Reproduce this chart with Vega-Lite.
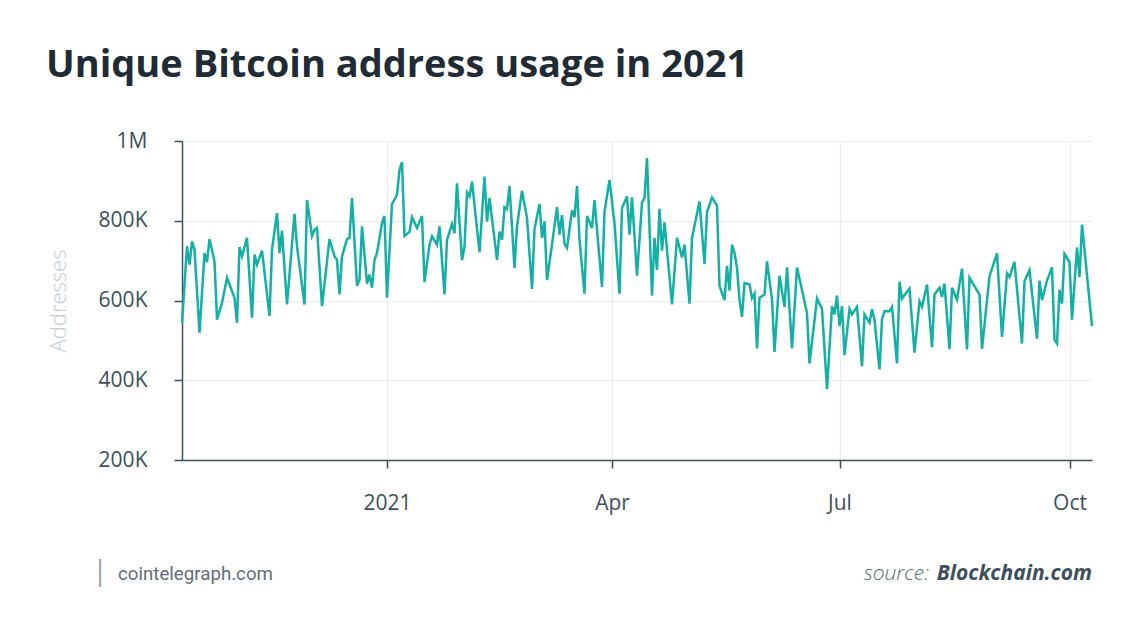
{
  "$schema": "https://vega.github.io/schema/vega-lite/v6.json",
  "width": 910,
  "height": 319,
  "autosize": {"type": "none"},
  "padding": {"left": 182, "top": 141, "right": 48, "bottom": 177},
  "background": "white",
  "title": {
    "text": "Unique Bitcoin address usage in 2021",
    "anchor": "start",
    "frame": "group",
    "dx": -136,
    "offset": 45,
    "font": "Open Sans",
    "fontSize": 38,
    "fontWeight": 700,
    "color": "#1f2b35"
  },
  "config": {
    "view": {"stroke": null},
    "axis": {
      "domainColor": "#3d4f5c",
      "domainWidth": 1.5,
      "tickColor": "#3d4f5c",
      "tickWidth": 1.5,
      "tickSize": 8,
      "gridColor": "#ececec",
      "gridWidth": 1.2,
      "labelFont": "Open Sans",
      "labelFontSize": 21,
      "labelColor": "#3d4f5c",
      "titleFont": "Open Sans",
      "titleFontSize": 22,
      "titleFontWeight": 300,
      "titleColor": "#c3ccd1"
    }
  },
  "data": {
    "values": [
      {"date": "2020-10-11", "addresses": 544000},
      {"date": "2020-10-13", "addresses": 736000},
      {"date": "2020-10-14", "addresses": 690000},
      {"date": "2020-10-15", "addresses": 748000},
      {"date": "2020-10-16", "addresses": 727000},
      {"date": "2020-10-18", "addresses": 519000},
      {"date": "2020-10-20", "addresses": 719000},
      {"date": "2020-10-21", "addresses": 696000},
      {"date": "2020-10-22", "addresses": 754000},
      {"date": "2020-10-24", "addresses": 698000},
      {"date": "2020-10-25", "addresses": 552000},
      {"date": "2020-10-27", "addresses": 594000},
      {"date": "2020-10-29", "addresses": 657000},
      {"date": "2020-11-01", "addresses": 607000},
      {"date": "2020-11-02", "addresses": 544000},
      {"date": "2020-11-03", "addresses": 734000},
      {"date": "2020-11-04", "addresses": 711000},
      {"date": "2020-11-06", "addresses": 757000},
      {"date": "2020-11-08", "addresses": 557000},
      {"date": "2020-11-09", "addresses": 715000},
      {"date": "2020-11-10", "addresses": 690000},
      {"date": "2020-11-12", "addresses": 725000},
      {"date": "2020-11-15", "addresses": 561000},
      {"date": "2020-11-16", "addresses": 727000},
      {"date": "2020-11-18", "addresses": 819000},
      {"date": "2020-11-19", "addresses": 719000},
      {"date": "2020-11-20", "addresses": 775000},
      {"date": "2020-11-22", "addresses": 590000},
      {"date": "2020-11-25", "addresses": 817000},
      {"date": "2020-11-26", "addresses": 736000},
      {"date": "2020-11-29", "addresses": 590000},
      {"date": "2020-11-30", "addresses": 852000},
      {"date": "2020-12-02", "addresses": 762000},
      {"date": "2020-12-03", "addresses": 777000},
      {"date": "2020-12-04", "addresses": 782000},
      {"date": "2020-12-06", "addresses": 586000},
      {"date": "2020-12-09", "addresses": 754000},
      {"date": "2020-12-11", "addresses": 711000},
      {"date": "2020-12-12", "addresses": 702000},
      {"date": "2020-12-13", "addresses": 615000},
      {"date": "2020-12-14", "addresses": 711000},
      {"date": "2020-12-16", "addresses": 754000},
      {"date": "2020-12-17", "addresses": 757000},
      {"date": "2020-12-18", "addresses": 857000},
      {"date": "2020-12-20", "addresses": 637000},
      {"date": "2020-12-21", "addresses": 652000},
      {"date": "2020-12-22", "addresses": 786000},
      {"date": "2020-12-24", "addresses": 642000},
      {"date": "2020-12-25", "addresses": 665000},
      {"date": "2020-12-26", "addresses": 632000},
      {"date": "2020-12-27", "addresses": 702000},
      {"date": "2020-12-28", "addresses": 719000},
      {"date": "2020-12-30", "addresses": 794000},
      {"date": "2020-12-31", "addresses": 812000},
      {"date": "2021-01-01", "addresses": 607000},
      {"date": "2021-01-03", "addresses": 842000},
      {"date": "2021-01-05", "addresses": 865000},
      {"date": "2021-01-06", "addresses": 927000},
      {"date": "2021-01-07", "addresses": 947000},
      {"date": "2021-01-08", "addresses": 762000},
      {"date": "2021-01-10", "addresses": 772000},
      {"date": "2021-01-11", "addresses": 809000},
      {"date": "2021-01-13", "addresses": 782000},
      {"date": "2021-01-15", "addresses": 812000},
      {"date": "2021-01-16", "addresses": 646000},
      {"date": "2021-01-18", "addresses": 740000},
      {"date": "2021-01-19", "addresses": 761000},
      {"date": "2021-01-21", "addresses": 740000},
      {"date": "2021-01-22", "addresses": 786000},
      {"date": "2021-01-24", "addresses": 615000},
      {"date": "2021-01-25", "addresses": 752000},
      {"date": "2021-01-27", "addresses": 792000},
      {"date": "2021-01-28", "addresses": 769000},
      {"date": "2021-01-29", "addresses": 894000},
      {"date": "2021-01-31", "addresses": 701000},
      {"date": "2021-02-01", "addresses": 736000},
      {"date": "2021-02-02", "addresses": 871000},
      {"date": "2021-02-03", "addresses": 861000},
      {"date": "2021-02-04", "addresses": 898000},
      {"date": "2021-02-07", "addresses": 721000},
      {"date": "2021-02-09", "addresses": 911000},
      {"date": "2021-02-10", "addresses": 798000},
      {"date": "2021-02-11", "addresses": 857000},
      {"date": "2021-02-14", "addresses": 702000},
      {"date": "2021-02-15", "addresses": 773000},
      {"date": "2021-02-16", "addresses": 752000},
      {"date": "2021-02-17", "addresses": 834000},
      {"date": "2021-02-18", "addresses": 829000},
      {"date": "2021-02-19", "addresses": 887000},
      {"date": "2021-02-21", "addresses": 682000},
      {"date": "2021-02-22", "addresses": 786000},
      {"date": "2021-02-24", "addresses": 875000},
      {"date": "2021-02-26", "addresses": 807000},
      {"date": "2021-02-28", "addresses": 629000},
      {"date": "2021-03-01", "addresses": 779000},
      {"date": "2021-03-03", "addresses": 842000},
      {"date": "2021-03-04", "addresses": 757000},
      {"date": "2021-03-05", "addresses": 798000},
      {"date": "2021-03-06", "addresses": 651000},
      {"date": "2021-03-08", "addresses": 740000},
      {"date": "2021-03-10", "addresses": 834000},
      {"date": "2021-03-11", "addresses": 765000},
      {"date": "2021-03-12", "addresses": 814000},
      {"date": "2021-03-13", "addresses": 742000},
      {"date": "2021-03-14", "addresses": 732000},
      {"date": "2021-03-16", "addresses": 826000},
      {"date": "2021-03-17", "addresses": 809000},
      {"date": "2021-03-18", "addresses": 887000},
      {"date": "2021-03-19", "addresses": 752000},
      {"date": "2021-03-21", "addresses": 617000},
      {"date": "2021-03-22", "addresses": 812000},
      {"date": "2021-03-24", "addresses": 782000},
      {"date": "2021-03-25", "addresses": 852000},
      {"date": "2021-03-26", "addresses": 777000},
      {"date": "2021-03-28", "addresses": 634000},
      {"date": "2021-03-29", "addresses": 823000},
      {"date": "2021-03-31", "addresses": 902000},
      {"date": "2021-04-02", "addresses": 794000},
      {"date": "2021-04-04", "addresses": 617000},
      {"date": "2021-04-05", "addresses": 832000},
      {"date": "2021-04-07", "addresses": 861000},
      {"date": "2021-04-08", "addresses": 765000},
      {"date": "2021-04-09", "addresses": 859000},
      {"date": "2021-04-11", "addresses": 662000},
      {"date": "2021-04-13", "addresses": 846000},
      {"date": "2021-04-14", "addresses": 857000},
      {"date": "2021-04-15", "addresses": 957000},
      {"date": "2021-04-17", "addresses": 612000},
      {"date": "2021-04-18", "addresses": 757000},
      {"date": "2021-04-19", "addresses": 677000},
      {"date": "2021-04-20", "addresses": 830000},
      {"date": "2021-04-21", "addresses": 725000},
      {"date": "2021-04-22", "addresses": 796000},
      {"date": "2021-04-25", "addresses": 590000},
      {"date": "2021-04-27", "addresses": 757000},
      {"date": "2021-04-29", "addresses": 708000},
      {"date": "2021-04-30", "addresses": 740000},
      {"date": "2021-05-02", "addresses": 592000},
      {"date": "2021-05-03", "addresses": 757000},
      {"date": "2021-05-06", "addresses": 848000},
      {"date": "2021-05-08", "addresses": 692000},
      {"date": "2021-05-09", "addresses": 822000},
      {"date": "2021-05-11", "addresses": 858000},
      {"date": "2021-05-13", "addresses": 838000},
      {"date": "2021-05-14", "addresses": 637000},
      {"date": "2021-05-16", "addresses": 601000},
      {"date": "2021-05-17", "addresses": 686000},
      {"date": "2021-05-18", "addresses": 625000},
      {"date": "2021-05-19", "addresses": 740000},
      {"date": "2021-05-20", "addresses": 719000},
      {"date": "2021-05-21", "addresses": 682000},
      {"date": "2021-05-22", "addresses": 602000},
      {"date": "2021-05-23", "addresses": 559000},
      {"date": "2021-05-24", "addresses": 644000},
      {"date": "2021-05-26", "addresses": 641000},
      {"date": "2021-05-27", "addresses": 606000},
      {"date": "2021-05-28", "addresses": 617000},
      {"date": "2021-05-29", "addresses": 480000},
      {"date": "2021-05-30", "addresses": 607000},
      {"date": "2021-06-01", "addresses": 615000},
      {"date": "2021-06-02", "addresses": 698000},
      {"date": "2021-06-04", "addresses": 602000},
      {"date": "2021-06-05", "addresses": 471000},
      {"date": "2021-06-07", "addresses": 662000},
      {"date": "2021-06-09", "addresses": 584000},
      {"date": "2021-06-10", "addresses": 683000},
      {"date": "2021-06-12", "addresses": 480000},
      {"date": "2021-06-14", "addresses": 683000},
      {"date": "2021-06-18", "addresses": 569000},
      {"date": "2021-06-19", "addresses": 442000},
      {"date": "2021-06-21", "addresses": 551000},
      {"date": "2021-06-22", "addresses": 605000},
      {"date": "2021-06-24", "addresses": 579000},
      {"date": "2021-06-26", "addresses": 378000},
      {"date": "2021-06-28", "addresses": 586000},
      {"date": "2021-06-29", "addresses": 565000},
      {"date": "2021-06-30", "addresses": 612000},
      {"date": "2021-07-01", "addresses": 536000},
      {"date": "2021-07-02", "addresses": 586000},
      {"date": "2021-07-03", "addresses": 463000},
      {"date": "2021-07-05", "addresses": 579000},
      {"date": "2021-07-06", "addresses": 565000},
      {"date": "2021-07-08", "addresses": 584000},
      {"date": "2021-07-10", "addresses": 435000},
      {"date": "2021-07-11", "addresses": 565000},
      {"date": "2021-07-13", "addresses": 544000},
      {"date": "2021-07-14", "addresses": 578000},
      {"date": "2021-07-15", "addresses": 551000},
      {"date": "2021-07-17", "addresses": 427000},
      {"date": "2021-07-18", "addresses": 553000},
      {"date": "2021-07-19", "addresses": 573000},
      {"date": "2021-07-21", "addresses": 573000},
      {"date": "2021-07-22", "addresses": 584000},
      {"date": "2021-07-24", "addresses": 442000},
      {"date": "2021-07-25", "addresses": 647000},
      {"date": "2021-07-26", "addresses": 605000},
      {"date": "2021-07-29", "addresses": 630000},
      {"date": "2021-07-31", "addresses": 469000},
      {"date": "2021-08-02", "addresses": 598000},
      {"date": "2021-08-03", "addresses": 584000},
      {"date": "2021-08-05", "addresses": 640000},
      {"date": "2021-08-07", "addresses": 483000},
      {"date": "2021-08-08", "addresses": 615000},
      {"date": "2021-08-10", "addresses": 632000},
      {"date": "2021-08-11", "addresses": 609000},
      {"date": "2021-08-12", "addresses": 642000},
      {"date": "2021-08-14", "addresses": 478000},
      {"date": "2021-08-15", "addresses": 632000},
      {"date": "2021-08-17", "addresses": 602000},
      {"date": "2021-08-19", "addresses": 680000},
      {"date": "2021-08-21", "addresses": 477000},
      {"date": "2021-08-22", "addresses": 657000},
      {"date": "2021-08-26", "addresses": 615000},
      {"date": "2021-08-27", "addresses": 479000},
      {"date": "2021-08-30", "addresses": 661000},
      {"date": "2021-09-02", "addresses": 718000},
      {"date": "2021-09-04", "addresses": 509000},
      {"date": "2021-09-06", "addresses": 668000},
      {"date": "2021-09-07", "addresses": 659000},
      {"date": "2021-09-09", "addresses": 697000},
      {"date": "2021-09-12", "addresses": 492000},
      {"date": "2021-09-13", "addresses": 648000},
      {"date": "2021-09-15", "addresses": 676000},
      {"date": "2021-09-18", "addresses": 504000},
      {"date": "2021-09-19", "addresses": 650000},
      {"date": "2021-09-20", "addresses": 601000},
      {"date": "2021-09-22", "addresses": 650000},
      {"date": "2021-09-24", "addresses": 683000},
      {"date": "2021-09-25", "addresses": 502000},
      {"date": "2021-09-26", "addresses": 492000},
      {"date": "2021-09-27", "addresses": 627000},
      {"date": "2021-09-28", "addresses": 592000},
      {"date": "2021-09-29", "addresses": 717000},
      {"date": "2021-10-01", "addresses": 696000},
      {"date": "2021-10-02", "addresses": 552000},
      {"date": "2021-10-04", "addresses": 733000},
      {"date": "2021-10-05", "addresses": 659000},
      {"date": "2021-10-06", "addresses": 790000},
      {"date": "2021-10-10", "addresses": 536000}
    ]
  },
  "layer": [
    {
      "mark": {"type": "line", "color": "#14b0a4", "strokeWidth": 2.5, "strokeJoin": "miter", "clip": false},
      "encoding": {
        "x": {
          "field": "date",
          "type": "temporal",
          "scale": {
            "type": "utc",
            "nice": false,
            "domain": [
              {"year": 2020, "month": 10, "date": 11, "utc": true},
              {"year": 2021, "month": 10, "date": 10, "utc": true}
            ]
          },
          "axis": {
            "title": null,
            "values": [
              {"year": 2021, "month": 1, "date": 1, "utc": true},
              {"year": 2021, "month": 4, "date": 1, "utc": true},
              {"year": 2021, "month": 7, "date": 1, "utc": true},
              {"year": 2021, "month": 10, "date": 1, "utc": true}
            ],
            "labelExpr": "utcmonth(datum.value) == 0 ? utcFormat(datum.value, '%Y') : utcFormat(datum.value, '%b')",
            "labelPadding": 24
          }
        },
        "y": {
          "field": "addresses",
          "type": "quantitative",
          "scale": {"domain": [200000, 1000000], "nice": false, "zero": false},
          "axis": {
            "title": "Addresses",
            "values": [200000, 400000, 600000, 800000, 1000000],
            "labelExpr": "datum.value >= 1000000 ? '1M' : (datum.value / 1000) + 'K'",
            "labelPadding": 27,
            "titlePadding": 28
          }
        }
      }
    },
    {
      "data": {"values": [{"label": "source:"}]},
      "mark": {"type": "text", "align": "right", "baseline": "alphabetic", "dx": -163, "dy": 120, "font": "Open Sans", "fontSize": 21, "fontStyle": "italic", "fontWeight": 300, "color": "#5a6a75"},
      "encoding": {
        "x": {"datum": {"year": 2021, "month": 10, "date": 10, "utc": true}, "type": "temporal"},
        "y": {"datum": 200000, "type": "quantitative"},
        "text": {"field": "label"}
      }
    },
    {
      "data": {"values": [{"label": "Blockchain.com"}]},
      "mark": {"type": "text", "align": "right", "baseline": "alphabetic", "dy": 120, "font": "Open Sans", "fontSize": 21, "fontStyle": "italic", "fontWeight": 700, "color": "#3d4f5c"},
      "encoding": {
        "x": {"datum": {"year": 2021, "month": 10, "date": 10, "utc": true}, "type": "temporal"},
        "y": {"datum": 200000, "type": "quantitative"},
        "text": {"field": "label"}
      }
    },
    {
      "data": {"values": [{"label": "cointelegraph.com"}]},
      "mark": {"type": "text", "align": "left", "baseline": "alphabetic", "dx": -64, "dy": 120, "font": "Roboto", "fontSize": 18.7, "color": "#5f6e78"},
      "encoding": {
        "x": {"datum": {"year": 2020, "month": 10, "date": 11, "utc": true}, "type": "temporal"},
        "y": {"datum": 200000, "type": "quantitative"},
        "text": {"field": "label"}
      }
    },
    {
      "data": {"values": [{"label": "|"}]},
      "mark": {"type": "text", "align": "center", "baseline": "middle", "dx": -82, "dy": 113, "font": "Roboto", "fontSize": 34, "fontWeight": 300, "color": "#8a969e"},
      "encoding": {
        "x": {"datum": {"year": 2020, "month": 10, "date": 11, "utc": true}, "type": "temporal"},
        "y": {"datum": 200000, "type": "quantitative"},
        "text": {"field": "label"}
      }
    }
  ]
}
